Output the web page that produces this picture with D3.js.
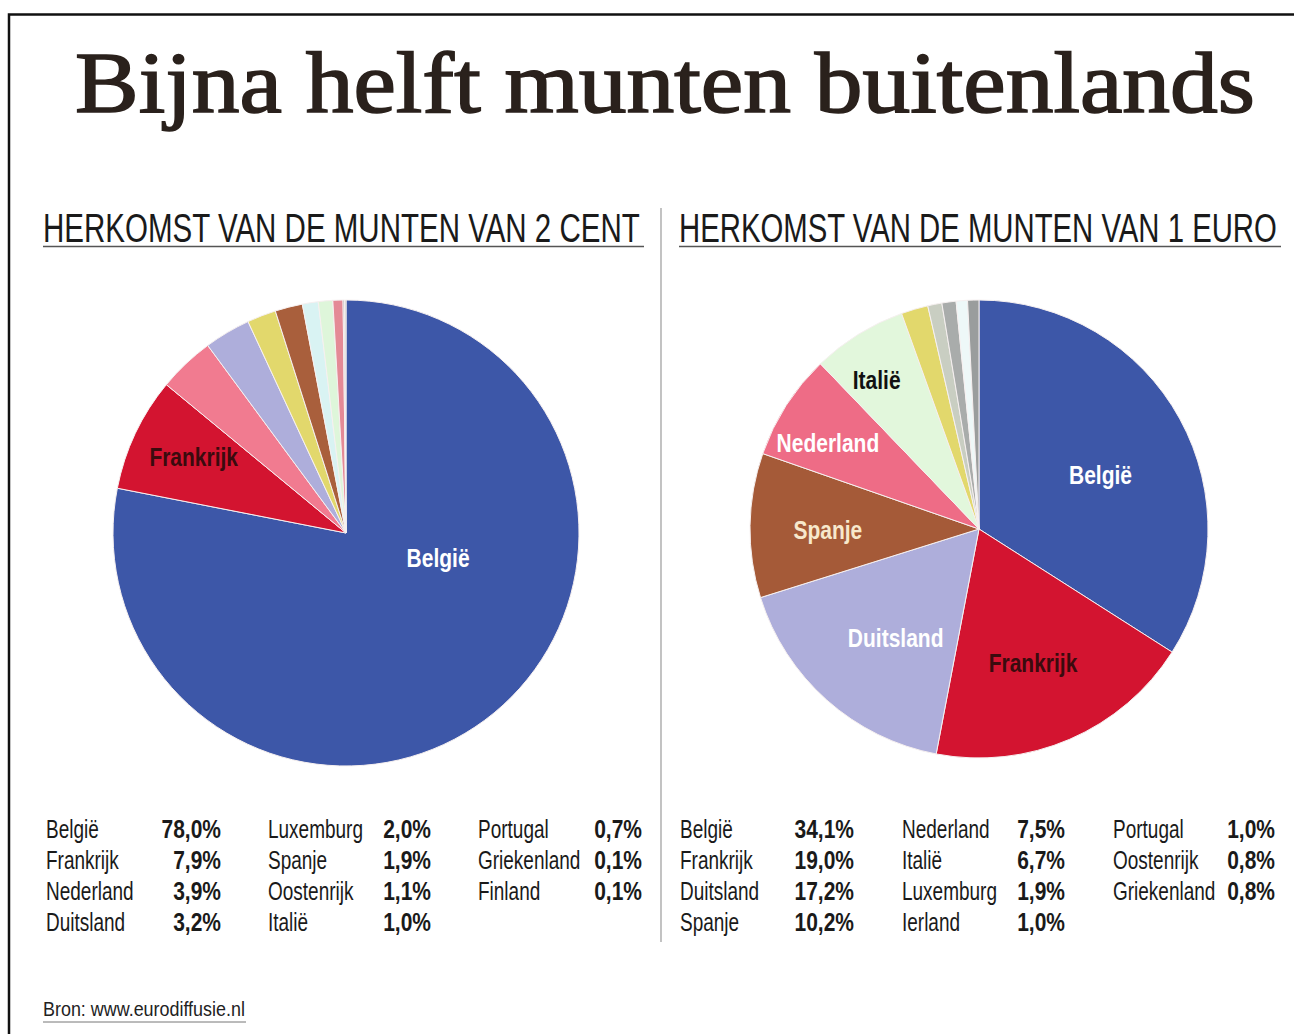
<!DOCTYPE html>
<html><head><meta charset="utf-8">
<script src="https://cdn.jsdelivr.net/npm/d3@7"></script>
<style>
html,body{margin:0;padding:0;background:#fff;}
svg{display:block;}
</style></head>
<body>
<svg id="chart" width="1294" height="1034"></svg>
<script>
// ---- data ----
const titleText = "Bijna helft munten buitenlands";
const cent2Title = "HERKOMST VAN DE MUNTEN VAN 2 CENT";
const euro1Title = "HERKOMST VAN DE MUNTEN VAN 1 EURO";
const cent2Countries = ["België","Frankrijk","Nederland","Duitsland","Luxemburg","Spanje","Oostenrijk","Italië","Portugal","Griekenland","Finland"];
const cent2Values = [78.0, 7.9, 3.9, 3.2, 2.0, 1.9, 1.1, 1.0, 0.7, 0.1, 0.1];
const euro1Countries = ["België","Frankrijk","Duitsland","Spanje","Nederland","Italië","Luxemburg","Ierland","Portugal","Oostenrijk","Griekenland"];
const euro1Values = [34.1, 19.0, 17.2, 10.2, 7.5, 6.7, 1.9, 1.0, 1.0, 0.8, 0.8];
const cent2Labels = ["België","Frankrijk"];
const euro1Labels = ["België","Frankrijk","Duitsland","Spanje","Nederland","Italië"];
const sourceText = "Bron: www.eurodiffusie.nl";

// ---- styles ----
const colors = {
  "België":"#3d57a8","Frankrijk":"#d31430","Nederland":"#f17b90","Duitsland":"#aeaedb",
  "Luxemburg":"#e2d86c","Spanje":"#a95f3c","Oostenrijk":"#d9f3f3","Italië":"#def6da",
  "Portugal":"#e48a96","Griekenland":"#a0a3a3","Finland":"#c8ccc0","Ierland":"#c9cec2"
};
const euroColors = Object.assign({}, colors, {"Portugal":"#a9acab","Oostenrijk":"#eef8f8","Griekenland":"#9a9d9d","Spanje":"#a55a38","Nederland":"#ee6c86","Italië":"#e2f7dc"});
const labelStyle = {
  "België":{fill:"#ffffff"}, "Frankrijk":{fill:"#3a0b0e"}, "Duitsland":{fill:"#ffffff"},
  "Spanje":{fill:"#f7e8cc"}, "Nederland":{fill:"#ffffff"}, "Italië":{fill:"#111111"}
};
// label placement: fraction through slice angle (t) and fraction of radius (rf)
const cent2LabelPlace = {"België":{t:0.375,rf:0.41},"Frankrijk":{t:0.54,rf:0.73}};
const euro1LabelPlace = {"België":{t:0.54,rf:0.58},"Frankrijk":{t:0.52,rf:0.63},"Duitsland":{t:0.43,rf:0.60},
  "Spanje":{t:0.47,rf:0.66},"Nederland":{t:0.39,rf:0.76},"Italië":{t:0.39,rf:0.79}};

const sans = "'Liberation Sans',Arial,sans-serif";
const svg = d3.select("#chart");
svg.append("rect").attr("width",1294).attr("height",1034).attr("fill","#fff");
// frame
svg.append("path").attr("d","M9,1034 V14.5 H1294").attr("fill","none").attr("stroke","#111").attr("stroke-width",2.5);

// condensed text helper
function ctext(parent, x, y, txt, size, weight, sx, anchor, fill){
  return parent.append("text").attr("transform",`translate(${x},${y}) scale(${sx},1)`)
    .attr("text-anchor",anchor||"start").text(txt)
    .attr("font-family",sans).attr("font-weight",weight).attr("font-size",size).attr("fill",fill||"#1a1a1a");
}
// text scaled horizontally to fit a width
function fitText(x, y, txt, width, family, size, extra){
  const t = svg.append("text").attr("x",0).attr("y",0).text(txt)
    .attr("font-family",family).attr("font-size",size);
  if (extra) extra(t);
  const w = t.node().getComputedTextLength();
  t.attr("transform",`translate(${x},${y}) scale(${width/w},1)`);
  return t;
}

// title
fitText(75, 112, titleText, 1180, "'Liberation Serif','DejaVu Serif',serif", 86,
  t=>t.attr("fill","#2a211c").attr("stroke","#2a211c").attr("stroke-width",1.6));

// subtitles
function subtitle(txt, x, w){
  fitText(x, 242, txt, w, sans, 40, t=>t.attr("fill","#1a1a1a"));
  svg.append("line").attr("x1",x).attr("x2",x+w+4).attr("y1",246.5).attr("y2",246.5)
    .attr("stroke","#555").attr("stroke-width",1.6);
}
subtitle(cent2Title, 43, 597);
subtitle(euro1Title, 679, 598);

// divider
svg.append("line").attr("x1",661).attr("x2",661).attr("y1",208).attr("y2",942).attr("stroke","#9a9a9a").attr("stroke-width",1.2);

function drawPie(countries, values, colorMap, cx, cy, R, labels, place){
  const data = countries.map((c,i)=>({country:c, value:values[i]}));
  const pie = d3.pie().sort(null).value(d=>d.value);
  const arcs = pie(data);
  const arc = d3.arc().innerRadius(0).outerRadius(R);
  const g = svg.append("g").attr("transform",`translate(${cx},${cy})`);
  g.selectAll("path").data(arcs).join("path")
    .attr("d",arc).attr("fill",d=>colorMap[d.data.country])
    .attr("stroke","#f6f0f0").attr("stroke-width",1);
  arcs.filter(a=>labels.includes(a.data.country)).forEach(a=>{
    const p = place[a.data.country];
    const ang = a.startAngle + p.t*(a.endAngle-a.startAngle);
    const r = p.rf*R;
    const x = r*Math.sin(ang), y = -r*Math.cos(ang);
    ctext(g, x, y+9, a.data.country, 25, "bold", 0.84, "middle", labelStyle[a.data.country].fill);
  });
}
drawPie(cent2Countries, cent2Values, colors, 346, 533, 233, cent2Labels, cent2LabelPlace);
drawPie(euro1Countries, euro1Values, euroColors, 979, 529, 229, euro1Labels, euro1LabelPlace);

// legends
const fmt = v => d3.format(".1f")(v).replace(".",",")+"%";
function legend(countries, values, colNameX, colValX){
  countries.forEach((c,i)=>{
    const col = Math.floor(i/4), row = i%4;
    const y = 838 + row*31;
    ctext(svg, colNameX[col], y, c, 25, "normal", 0.76, "start");
    ctext(svg, colValX[col], y, fmt(values[i]), 25, "bold", 0.84, "end");
  });
}
legend(cent2Countries, cent2Values, [46,268,478], [221,431,642]);
legend(euro1Countries, euro1Values, [680,902,1113], [854,1065,1275]);

// source
fitText(43, 1016, sourceText, 202, sans, 20, t=>t.attr("fill","#222"));
svg.append("line").attr("x1",43).attr("x2",246).attr("y1",1022).attr("y2",1022).attr("stroke","#777").attr("stroke-width",1);
</script>
</body></html>
